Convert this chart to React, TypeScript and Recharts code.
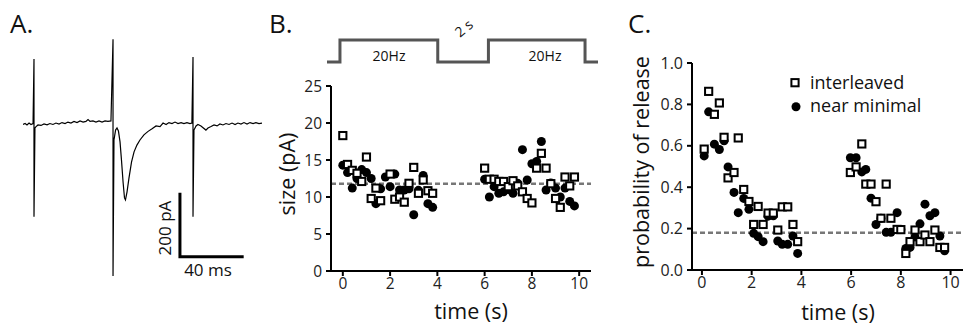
import { Line, LineChart, ReferenceLine, Scatter, ScatterChart, XAxis, YAxis } from 'recharts'

const FONT = '"Open Sans", "Liberation Sans", sans-serif'

// A. example current trace (ms, pA)
const traceA: [number, number][] = [
	[0, -1.5], [1.3, 1.5], [2.5, -3], [3.8, 3], [5, -1.5], [6.3, 1.5],
	[6.9, 203], [6.9, -290], [7.5, -12.5], [8.2, -8], [9.4, -3], [11.3, -4.5], [13.2, 0], [15.1, -2.5],
	[16.9, 1.5], [18.8, -1.5], [20.7, 3], [22.6, 0], [24.5, 4.5], [26.4, 1.5], [28.2, 6], [30.1, 3],
	[32, 8], [33.9, 4.5], [35.8, 9.5], [37.7, 6], [39.5, 8], [40.8, 14], [42.1, 8], [43.9, 9.5],
	[45.8, 6], [47.7, 9.5], [49.6, 6], [51.5, 9.5], [53.3, 8], [55.2, 9.5],
	[56.5, 265], [56.5, -475], [57.1, -50], [58.1, -19], [59, -12.5], [59.9, -22], [60.9, -56],
	[61.8, -112], [62.8, -181], [63.7, -231], [64.3, -237], [65.3, -212], [66.5, -169], [68.1, -119],
	[69.7, -87], [71.5, -66], [73.4, -50], [75.9, -34], [78.5, -23], [81, -15], [83.5, -6], [86, -8],
	[87.9, 3], [89.8, -1.5], [91.6, 4.5], [93.5, 1.5], [95.4, 6], [97.3, 1.5], [99.2, 4.5], [101, 1.5],
	[102.9, 4.5], [104.8, 1.5], [106, 3],
	[106.7, 209], [106.7, -290], [107.3, -19], [108.6, -6], [109.8, -1.5], [111.7, -6], [113.6, -14],
	[114.8, -19], [116.1, -12.5], [118, -8], [119.9, -3], [121.8, -6], [123.6, 0], [125.5, -3],
	[127.4, 1.5], [129.3, -1.5], [131.2, 3], [133.1, -1.5], [134.9, 3], [136.8, 0], [138.7, 4.5],
	[140.6, 0], [142.5, 4.5], [144.4, 1.5], [146.2, 4.5], [148.1, 1.5], [150, 3],
]
// scale bar: 40 ms x 200 pA
const scaleBarA: [number, number][] = [[98.5, -215], [98.5, -415], [138.5, -415]]

// B. stimulus protocol (s, off/on)
const stimTimes = [-0.7, -0.15, -0.15, 4, 4, 6.15, 6.15, 10.25, 10.25, 10.8]
const stimLevels = [0, 0, 1, 1, 0, 0, 1, 1, 0, 0]

// B. EPSC size (pA)
const timesInterleavedB = [0, 0.2, 0.4, 0.6, 0.8, 1, 1.2, 1.4, 1.6, 2, 2.2, 2.4, 2.6, 2.8, 3, 3.2, 3.4, 3.6, 3.8,
	6, 6.2, 6.4, 6.6, 6.8, 7, 7.2, 7.4, 7.6, 7.8, 8, 8.2, 8.4, 8.6, 8.8, 9, 9.2, 9.4, 9.6, 9.8]
const sizeInterleaved = [18.3, 14.4, 13.6, 13.2, 12.1, 15.4, 9.8, 11.2, 9.5, 13.1, 9.7, 10.0, 9.3, 11.85, 14.0, 10.5, 12.3, 10.85, 10.5,
	13.9, 12.4, 12.4, 12.1, 12.1, 11.4, 12.2, 11.5, 10.7, 9.8, 9.2, 13.9, 15.9, 13.9, 11.8, 9.8, 8.6, 12.7, 11.5, 12.7]
const timesMinimalB = [0, 0.2, 0.4, 0.6, 0.8, 1, 1.2, 1.4, 1.6, 1.8, 2, 2.2, 2.4, 2.6, 2.8, 3, 3.2, 3.4, 3.6, 3.8,
	6, 6.2, 6.4, 6.6, 6.8, 7, 7.2, 7.4, 7.6, 7.8, 8, 8.2, 8.4, 8.6, 8.8, 9, 9.2, 9.4, 9.6, 9.8]
const sizeMinimal = [14.3, 13.3, 11.2, 12.5, 13.7, 13.3, 12.5, 9.1, 11.1, 12.7, 11.4, 13.1, 10.95, 10.95, 11.1, 7.6, 10.9, 12.9, 9.1, 8.6,
	12.4, 10.0, 11.4, 10.5, 10.7, 11.0, 10.5, 11.85, 16.4, 12.3, 14.5, 14.8, 17.5, 10.95, 11.9, 11.2, 10.0, 11.2, 9.4, 8.8]
const sizeMean = 11.8

// C. probability of release
const timesInterleavedC = [0.09, 0.27, 0.5, 0.7, 0.89, 1.05, 1.29, 1.46, 1.68, 1.89, 2.08, 2.26, 2.46, 2.66, 2.87, 3.05, 3.23, 3.45, 3.66, 3.85,
	5.97, 6.2, 6.43, 6.59, 6.8, 7.0, 7.2, 7.41, 7.6, 7.85, 8.0, 8.2, 8.37, 8.57, 8.77, 8.97, 9.17, 9.37, 9.57, 9.76]
const probInterleaved = [0.584, 0.863, 0.752, 0.807, 0.641, 0.445, 0.471, 0.638, 0.389, 0.331, 0.22, 0.307, 0.22, 0.275, 0.275, 0.193, 0.305, 0.305, 0.22, 0.137,
	0.471, 0.498, 0.609, 0.415, 0.415, 0.33, 0.25, 0.415, 0.25, 0.196, 0.195, 0.08, 0.137, 0.193, 0.137, 0.169, 0.137, 0.193, 0.109, 0.109]
const timesMinimalC = timesInterleavedC
const probMinimal = [0.551, 0.764, 0.608, 0.582, 0.624, 0.498, 0.375, 0.277, 0.346, 0.293, 0.177, 0.161, 0.137, 0.26, 0.262, 0.14, 0.124, 0.124, 0.164, 0.08,
	0.542, 0.542, 0.474, 0.486, 0.347, 0.22, 0.25, 0.182, 0.182, 0.277, 0.196, 0.104, 0.109, 0.16, 0.223, 0.318, 0.262, 0.277, 0.164, 0.093]
const probMean = 0.18

const timeTicks = [0, 2, 4, 6, 8, 10]
const sizeTicks = [0, 5, 10, 15, 20, 25]
const probTicks = [0, 0.2, 0.4, 0.6, 0.8, 1]

const pairs = (pts: [number, number][]) => pts.map(([t, v]) => ({ t, v }))
const zip = (ts: number[], vs: number[]) => ts.map((t, i) => ({ t, v: vs[i] }))

const SquareMark = (p: any) => (
	<rect x={p.cx - 3.6} y={p.cy - 3.6} width={7.2} height={7.2} fill='#fff' stroke='#000' strokeWidth={2} />
)
const DotMark = (p: any) => <circle cx={p.cx} cy={p.cy} r={4.5} fill='#000' />

const axisLine = { stroke: '#000', strokeWidth: 2 }

export default function App() {
	return (
		<div style={{ position: 'absolute', left: 0, top: 0, width: 964, height: 327, background: '#fff', fontFamily: FONT }}>
			{/* A. trace */}
			<div style={{ position: 'absolute', left: 23, top: 30 }}>
				<LineChart width={239} height={260} margin={{ top: 0, right: 0, bottom: 0, left: 0 }}>
					<XAxis hide type='number' dataKey='t' domain={[0, 150]} />
					<YAxis hide type='number' domain={[-518.75, 293.75]} />
					<Line data={pairs(traceA)} dataKey='v' type='linear' stroke='#000' strokeWidth={1.2} dot={false} isAnimationActive={false} />
					<Line data={pairs(scaleBarA)} dataKey='v' type='linear' stroke='#000' strokeWidth={3} dot={false} isAnimationActive={false} />
				</LineChart>
			</div>

			{/* B. stimulus */}
			<div style={{ position: 'absolute', left: 327, top: 30 }}>
				<LineChart width={271} height={42} margin={{ top: 10, right: 0, bottom: 10, left: 0 }}>
					<XAxis hide type='number' dataKey='t' domain={[-0.7, 10.8]} />
					<YAxis hide type='number' domain={[0, 1]} />
					<Line data={zip(stimTimes, stimLevels)} dataKey='v' type='linear' stroke='#555' strokeWidth={3} dot={false} isAnimationActive={false} />
				</LineChart>
			</div>

			{/* B. size */}
			<div style={{ position: 'absolute', left: 240, top: 70 }}>
				<ScatterChart width={360} height={257} margin={{ top: 16, right: 9, bottom: 0, left: 0 }}>
					<XAxis type='number' dataKey='t' domain={[-0.5, 10.5]} ticks={timeTicks} height={56} axisLine={axisLine} tickLine={axisLine} tickSize={5} tickMargin={2} tick={{ fill: '#222', fontSize: 15.5, fontFamily: FONT }} />
					<YAxis type='number' dataKey='v' domain={[0, 25]} ticks={sizeTicks} width={91} axisLine={axisLine} tickLine={axisLine} tickSize={5} tickMargin={4} tick={{ fill: '#222', fontSize: 15.5, fontFamily: FONT }} />
					<ReferenceLine y={sizeMean} stroke='#777' strokeWidth={2.5} strokeDasharray='5 3' />
					<Scatter data={zip(timesMinimalB, sizeMinimal)} shape={DotMark} isAnimationActive={false} />
					<Scatter data={zip(timesInterleavedB, sizeInterleaved)} shape={SquareMark} isAnimationActive={false} />
				</ScatterChart>
			</div>

			{/* C. probability */}
			<div style={{ position: 'absolute', left: 600, top: 40 }}>
				<ScatterChart width={364} height={287} margin={{ top: 23, right: 1, bottom: 0, left: 0 }}>
					<XAxis type='number' dataKey='t' domain={[-0.4, 10.5]} ticks={timeTicks} height={57} axisLine={axisLine} tickLine={axisLine} tickSize={5} tickMargin={2} tick={{ fill: '#222', fontSize: 16, fontFamily: FONT }} />
					<YAxis type='number' dataKey='v' domain={[0, 1]} ticks={probTicks} tickFormatter={(v: number) => v.toFixed(1)} width={92} axisLine={axisLine} tickLine={axisLine} tickSize={5} tickMargin={4} tick={{ fill: '#222', fontSize: 16, fontFamily: FONT }} />
					<ReferenceLine y={probMean} stroke='#777' strokeWidth={2.5} strokeDasharray='5 3' />
					<Scatter data={zip(timesMinimalC, probMinimal)} shape={DotMark} isAnimationActive={false} />
					<Scatter data={zip(timesInterleavedC, probInterleaved)} shape={SquareMark} isAnimationActive={false} />
				</ScatterChart>
			</div>

			{/* labels */}
			<svg width={964} height={327} style={{ position: 'absolute', left: 0, top: 0, pointerEvents: 'none' }} fontFamily={FONT} fill='#111'>
				<text x={10} y={33} fontSize={26}>A.</text>
				<text x={269} y={33} fontSize={26}>B.</text>
				<text x={628} y={33} fontSize={26}>C.</text>

				<text x={171} y={228} fontSize={17} textAnchor='middle' transform='rotate(-90 171 228)'>200 pA</text>
				<text x={208} y={276} fontSize={17} textAnchor='middle'>40 ms</text>

				<text x={389} y={61} fontSize={14} textAnchor='middle'>20Hz</text>
				<text x={545} y={61} fontSize={14} textAnchor='middle'>20Hz</text>
				<text x={467} y={32} fontSize={14} textAnchor='middle' transform='rotate(-40 467 32)'>2 s</text>

				<text x={295} y={174} fontSize={21.5} textAnchor='middle' transform='rotate(-90 295 174)'>size (pA)</text>
				<text x={471} y={319} fontSize={21.5} textAnchor='middle'>time (s)</text>

				<text x={649} y={162} fontSize={21.5} textAnchor='middle' transform='rotate(-90 649 162)'>probability of release</text>
				<text x={838} y={320} fontSize={21.5} textAnchor='middle'>time (s)</text>

				<rect x={791.4} y={79.1} width={7.2} height={7.2} fill='#fff' stroke='#000' strokeWidth={2} />
				<text x={810} y={88.5} fontSize={18}>interleaved</text>
				<circle cx={796} cy={106.7} r={4.5} fill='#000' />
				<text x={810} y={112} fontSize={18}>near minimal</text>
			</svg>
		</div>
	)
}
